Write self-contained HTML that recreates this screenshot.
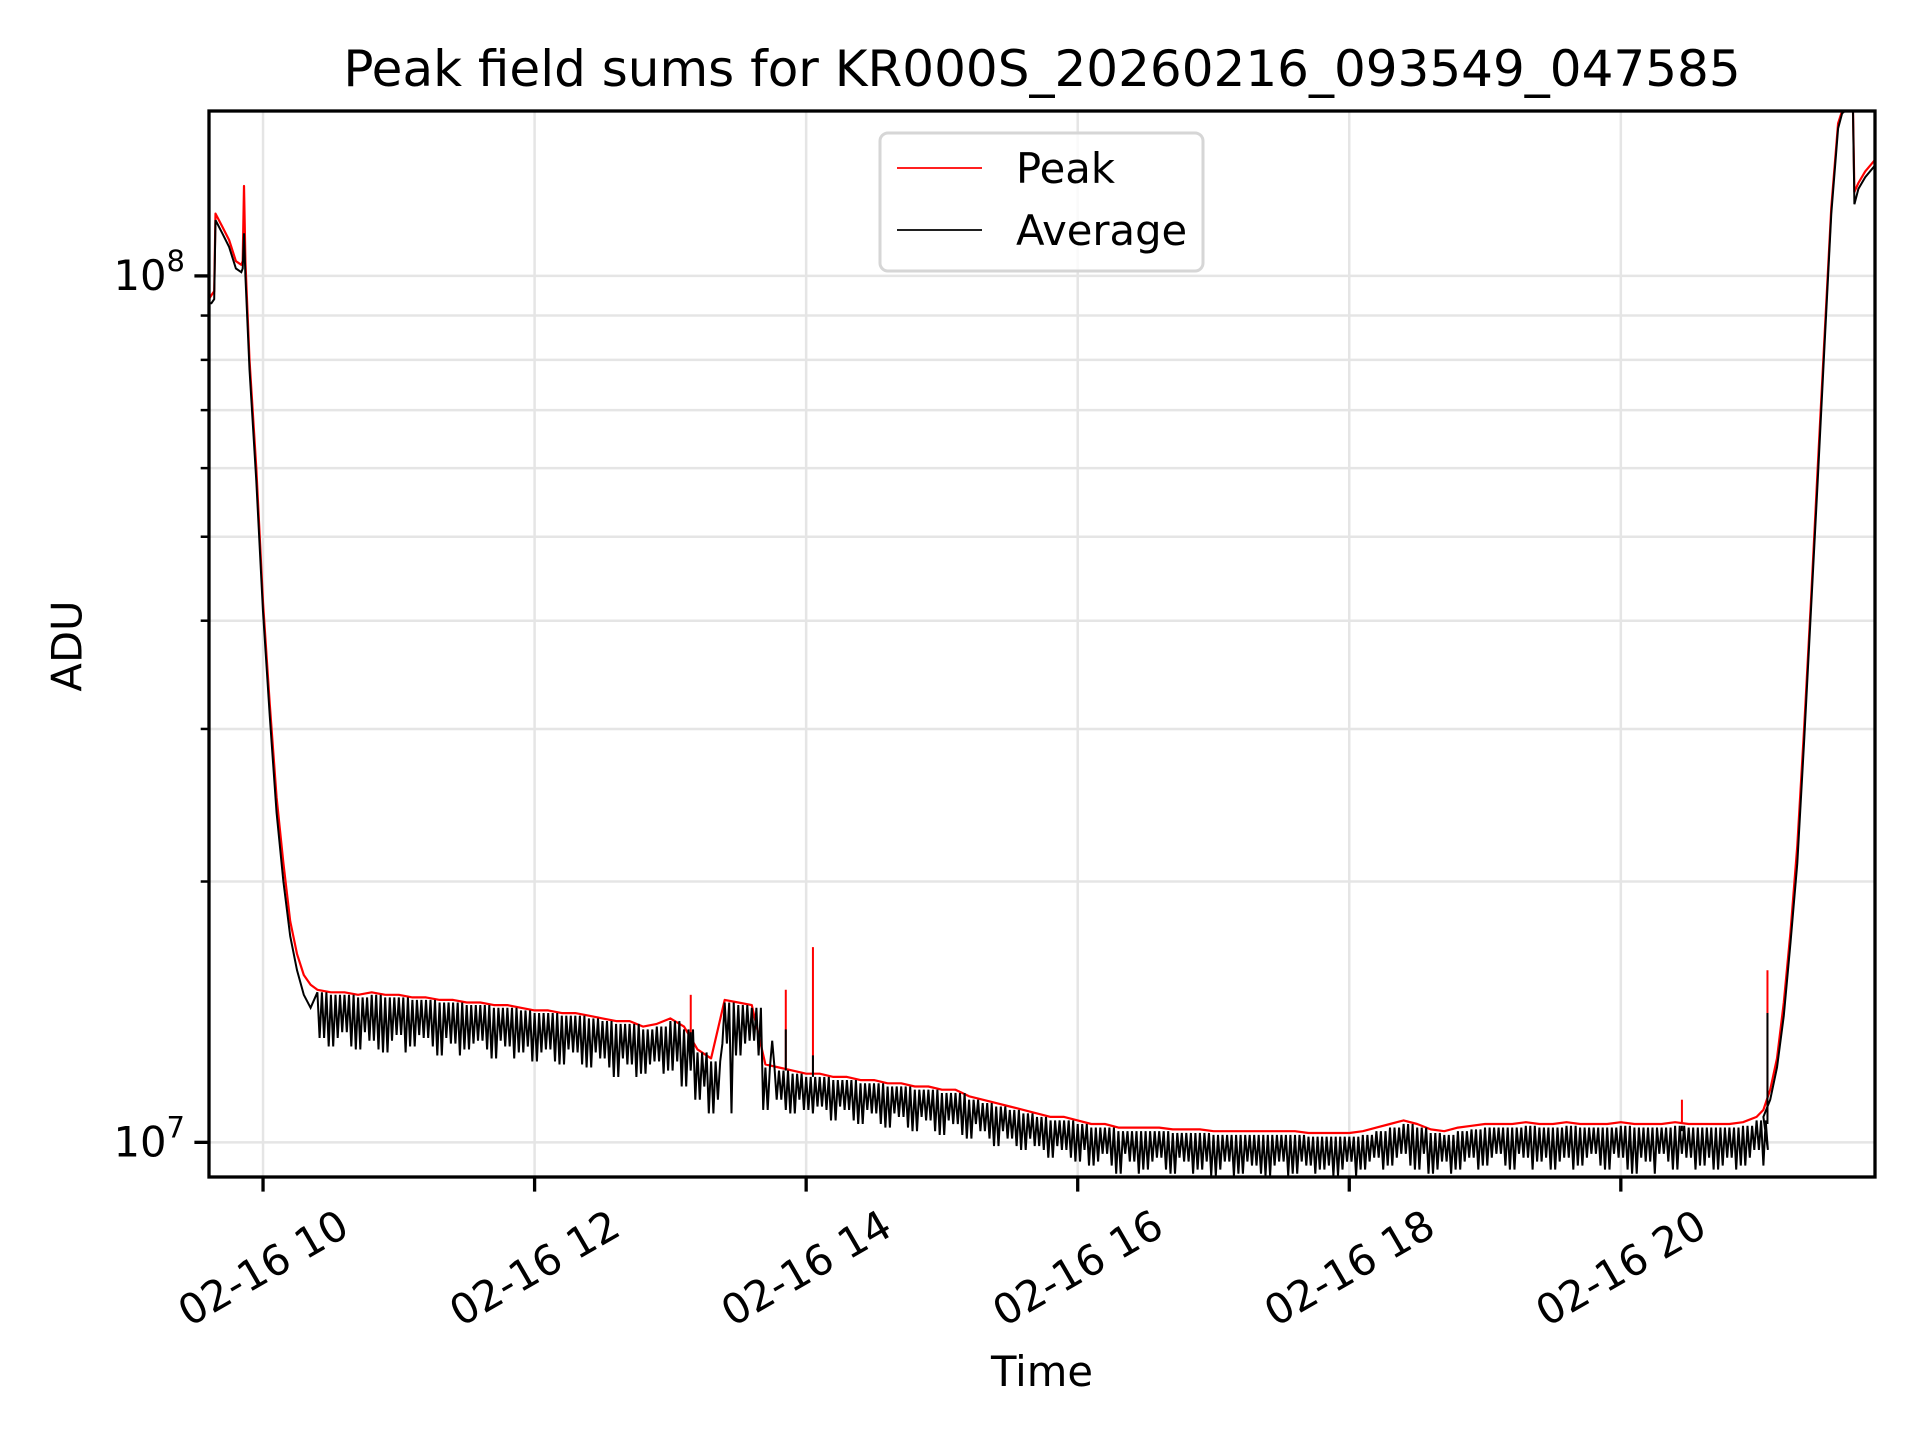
<!DOCTYPE html>
<html><head><meta charset="utf-8">
<style>
html,body{margin:0;padding:0;background:#fff;}
svg{display:block;}
text{font-family:"DejaVu Sans","Liberation Sans",sans-serif;fill:#000;}
</style></head>
<body>
<svg id="chart" width="1920" height="1440" viewBox="0 0 1920 1440" xmlns="http://www.w3.org/2000/svg">
  <rect width="1920" height="1440" fill="#fff"/>
  <text x="1042" y="86" font-size="50" text-anchor="middle">Peak field sums for KR000S_20260216_093549_047585</text>
  <g id="grid"></g>
  <g id="series"></g>
  <rect x="209" y="111" width="1666" height="1066" fill="none" stroke="#000" stroke-width="3.3"/>
  <g id="axes"></g>
  <text x="0" y="0" font-size="41.7" text-anchor="middle" dominant-baseline="central" transform="translate(67,646) rotate(-90)">ADU</text>
  <text x="1042" y="1386" font-size="41.7" text-anchor="middle">Time</text>
  <g>
    <rect x="880" y="133" width="323" height="138" rx="8" fill="#fff" fill-opacity="0.8" stroke="#d6d6d6" stroke-width="3"/>
    <line x1="897" y1="168" x2="982" y2="168" stroke="#ff0000" stroke-width="1.8"/>
    <text x="1016" y="183" font-size="41.7">Peak</text>
    <line x1="897" y1="230" x2="982" y2="230" stroke="#000" stroke-width="1.8"/>
    <text x="1016" y="245" font-size="41.7">Average</text>
  </g>
</svg>
<script>
// ---- data (values in millions of ADU, time in hours on 02-16) ----
const headT   = [9.60,9.62,9.64,9.65,9.70,9.75,9.80,9.84,9.85,9.86,9.87,9.90,9.95,10.00,10.05,10.10,10.15,10.20,10.25,10.30,10.35];
const headPeak= [94,95,96,118,114,110,104,103,104,127,104,80,60,42,32,25,21,18,16.5,15.6,15.2];
const headAvg = [93,93,94,116,112,108,102,101,102,112,100,78,58,41,31,24,20,17.3,15.8,14.8,14.3];

const midStart = 10.4, midStep = 0.1;
const midPeak = [15.0,14.9,14.9,14.8,14.9,14.8,14.8,
 14.7,14.7,14.6,14.6,14.5,14.5,14.4,14.4,14.3,14.2,
 14.2,14.1,14.1,14.0,13.9,13.8,13.8,13.6,13.7,
 13.9,13.6,12.8,12.5,14.6,14.5,14.4,12.3,12.2,12.1,
 12.0,12.0,11.9,11.9,11.8,11.8,11.7,11.7,11.6,11.6,11.5,
 11.5,11.3,11.2,11.1,11.0,10.9,10.8,10.7,10.7,10.6,
 10.5,10.5,10.4,10.4,10.4,10.4,10.35,10.35,10.35,10.3,10.3,10.3,10.3,10.3,10.3,10.3,10.25,10.25,10.25,10.25,
 10.3,10.4,10.5,10.6,10.5,10.35,10.3,10.4,10.45,
 10.5,10.5,10.5,10.55,10.5,10.5,10.55,10.5,10.5,10.5,10.55,10.5,10.5,10.5,10.55,10.5,10.5,10.5,10.5,10.55,10.7];
const midAvgHi = [14.9,14.8,14.8,14.7,14.8,14.7,14.7,
 14.6,14.6,14.5,14.5,14.4,14.4,14.3,14.3,14.2,14.1,
 14.1,14.0,14.0,13.9,13.8,13.7,13.7,13.5,13.6,
 13.8,13.5,12.7,12.4,14.5,14.4,14.3,12.2,12.1,12.0,
 11.9,11.9,11.8,11.8,11.7,11.7,11.6,11.6,11.5,11.5,11.4,
 11.4,11.2,11.1,11.0,10.9,10.8,10.7,10.6,10.6,10.5,
 10.4,10.4,10.3,10.3,10.3,10.3,10.25,10.25,10.25,10.2,10.2,10.2,10.2,10.2,10.2,10.2,10.15,10.15,10.15,10.15,
 10.2,10.3,10.4,10.5,10.4,10.25,10.2,10.3,10.35,
 10.4,10.4,10.4,10.45,10.4,10.4,10.45,10.4,10.4,10.4,10.45,10.4,10.4,10.4,10.45,10.4,10.4,10.4,10.4,10.45,10.6];
const midAvgLo = [13.2,12.9,13.4,12.8,13.1,12.7,13.3,
 12.9,13.2,12.6,13.0,12.8,13.1,12.5,12.9,12.7,12.4,
 12.8,12.3,12.7,12.2,12.5,11.9,12.3,12.0,12.4,
 12.1,11.6,11.2,10.8,13.0,12.6,13.1,10.9,11.2,10.8,
 10.9,11.0,10.6,10.9,10.5,10.8,10.4,10.7,10.3,10.6,10.2,
 10.5,10.1,10.3,9.9,10.1,9.8,9.9,9.6,9.8,9.5,
 9.4,9.7,9.2,9.5,9.3,9.6,9.2,9.5,9.3,9.15,9.5,9.2,9.4,9.15,9.5,9.2,9.4,9.3,9.15,9.5,
 9.3,9.6,9.4,9.7,9.3,9.2,9.5,9.3,9.6,
 9.4,9.7,9.3,9.6,9.5,9.3,9.6,9.4,9.7,9.3,9.6,9.2,9.5,9.7,9.3,9.6,9.4,9.3,9.6,9.4,9.8];

const tailT   = [21.05,21.1,21.15,21.2,21.25,21.3,21.35,21.4,21.45,21.5,21.55,21.6,21.63,21.65,21.7,21.71,21.72,21.75,21.8,21.87];
const tailPeak= [10.9,11.5,12.5,14.5,17.5,22,30,42,60,85,120,150,156,156,157,156,125,128,132,136];
const tailAvg = [10.7,11.2,12.2,14,17,21,29,41,58,83,118,148,154,155,155,155,121,126,130,134];

const spikeT    = [13.15,13.85,14.05,20.45,21.08];
const spikePeak = [14.8,15.0,16.8,11.2,15.8];
const spikeAvg  = [13.4,13.5,12.6,10.3,14.1];

const xTickHours  = [10,12,14,16,18,20];
const xTickLabels = ["02-16 10","02-16 12","02-16 14","02-16 16","02-16 18","02-16 20"];
const yMajor = [1e7,1e8];
const yMajorLabels = ["7","8"];
const yMinor = [2e7,3e7,4e7,5e7,6e7,7e7,8e7,9e7];

// ---- axes ----
const L=209,R=1875,T=111,B=1177;
const xMin=9.602,xMax=21.872;
const yLogMin=Math.log10(9.12e6), yLogMax=Math.log10(1.55e8);
const xs=t=>L+(t-xMin)/(xMax-xMin)*(R-L);
const ys=v=>B-(Math.log10(v)-yLogMin)/(yLogMax-yLogMin)*(B-T);
const NS="http://www.w3.org/2000/svg";
function mk(tag,attrs,parent){const e=document.createElementNS(NS,tag);for(const k in attrs)e.setAttribute(k,attrs[k]);parent.appendChild(e);return e;}
const grid=document.getElementById('grid'),axes=document.getElementById('axes'),series=document.getElementById('series');

yMinor.concat(yMajor).forEach(v=>{
  const y=ys(v);
  const g=mk('line',{x1:L,x2:R,y1:y,y2:y,stroke:'#e5e5e5','stroke-width':2.5},grid);
  
  
});
xTickHours.forEach(h=>{
  const x=xs(h);
  const g=mk('line',{x1:x,x2:x,y1:T,y2:B,stroke:'#e5e5e5','stroke-width':2.5},grid);
  
  
});
yMinor.forEach(v=>{
  const y=ys(v);
  const t=mk('line',{x1:L-8.3,x2:L,y1:y,y2:y,stroke:'#000','stroke-width':2.5},axes);
  
  
});
yMajor.forEach((v,i)=>{
  const y=ys(v);
  const t=mk('line',{x1:L-14.6,x2:L,y1:y,y2:y,stroke:'#000','stroke-width':3.3},axes);
  
  
  const tx=mk('text',{x:L-24,y:y+14,'font-size':41.7,'text-anchor':'end'},axes);
  
  
  tx.textContent='10';
  const sup=mk('tspan',{dy:-19,'font-size':29},tx);
  sup.textContent=yMajorLabels[i];
});
xTickHours.forEach((h,i)=>{
  const x=xs(h);
  const t=mk('line',{x1:x,x2:x,y1:B,y2:B+14.6,stroke:'#000','stroke-width':3.3},axes);
  
  
  const tx=mk('text',{x:0,y:0,'font-size':41.7,'text-anchor':'middle','dominant-baseline':'central',transform:`translate(${x},1268) rotate(-30)`},axes);
  
  
  tx.textContent=xTickLabels[i];
});

// ---- series ----
const M=1e6;
function clipY(v){return Math.min(Math.max(ys(v*M),T),B);}
let pk=[],av=[];
headT.forEach((t,i)=>{pk.push([xs(t),clipY(headPeak[i])]);av.push([xs(t),clipY(headAvg[i])]);});
const n=midPeak.length;
midPeak.forEach((v,i)=>{
  const t=midStart+midStep*i, d=midStep/6;
  const hi=midAvgHi[i];
  const loA=midAvgLo[i], loB=midAvgLo[Math.max(i-1,0)], loC=midAvgLo[Math.min(i+1,n-1)];
  pk.push([xs(t),clipY(v)]);
  av.push([xs(t),clipY(hi)]);
  av.push([xs(t+d),clipY(loA)]);
  av.push([xs(t+2*d),clipY(hi)]);
  av.push([xs(t+3*d),clipY(loB)]);
  av.push([xs(t+4*d),clipY(hi)]);
  av.push([xs(t+5*d),clipY(loC)]);
});
tailT.forEach((t,i)=>{pk.push([xs(t),clipY(tailPeak[i])]);av.push([xs(t),clipY(tailAvg[i])]);});
function pts(a){return a.map(p=>p[0].toFixed(1)+','+p[1].toFixed(1)).join(' ');}
const cp=mk('clipPath',{id:'plotclip'},series);
mk('rect',{x:L,y:T,width:R-L,height:B-T},cp);
const pl=mk('polyline',{points:pts(pk),fill:'none',stroke:'#ff0000','stroke-width':2.2,'stroke-linejoin':'round','clip-path':'url(#plotclip)'},series);


spikeT.forEach((t,i)=>{
  const idx=Math.round((t-midStart)/midStep);
  const base=idx>=0&&idx<midPeak.length?midPeak[idx]:10.7;
  const s=mk('line',{x1:xs(t),x2:xs(t),y1:clipY(base),y2:clipY(spikePeak[i]),stroke:'#ff0000','stroke-width':2},series);
  
  
});
const al=mk('polyline',{points:pts(av),fill:'none',stroke:'#000','stroke-width':2,'stroke-linejoin':'miter','clip-path':'url(#plotclip)'},series);


spikeT.forEach((t,i)=>{
  const idx=Math.round((t-midStart)/midStep);
  const base=idx>=0&&idx<midAvgHi.length?midAvgHi[idx]:10.5;
  const s=mk('line',{x1:xs(t),x2:xs(t),y1:clipY(base),y2:clipY(spikeAvg[i]),stroke:'#000','stroke-width':2},series);
  
  
});
</script>
</body></html>
